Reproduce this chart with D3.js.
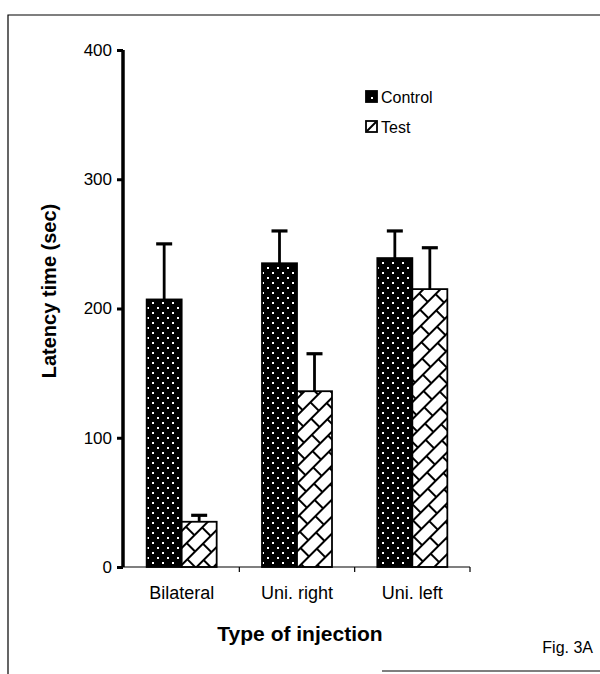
<!DOCTYPE html>
<html><head><meta charset="utf-8">
<script src="https://cdn.jsdelivr.net/npm/d3@7/dist/d3.min.js"></script>
<style>body{margin:0;background:#fff}svg{display:block}text{font-family:"Liberation Sans",Arial,sans-serif;fill:#000}</style>
</head><body>
<svg id="c" width="600" height="674"></svg>
<script>
const categories = ["Bilateral", "Uni. right", "Uni. left"];
const seriesNames = ["Control", "Test"];
const controlValues = [207, 235, 239];
const controlErrTop = [250, 260, 260];
const testValues = [35, 136, 215];
const testErrTop = [40, 165, 247];
const yTicks = [0, 100, 200, 300, 400];

const svg = d3.select("#c");
const defs = svg.append("defs");
// dotted pattern (control)
const pd = defs.append("pattern").attr("id","dots").attr("patternUnits","userSpaceOnUse")
  .attr("width",10).attr("height",10);
pd.append("rect").attr("width",10).attr("height",10).attr("fill","#000");
pd.append("rect").attr("x",2).attr("y",2).attr("width",2).attr("height",2).attr("fill","#fff");
pd.append("rect").attr("x",7).attr("y",7).attr("width",2).attr("height",2).attr("fill","#fff");
// brick diagonal pattern (test)
const pb = defs.append("pattern").attr("id","brick").attr("patternUnits","userSpaceOnUse")
  .attr("width",22).attr("height",24).attr("patternTransform","rotate(-45)");
pb.append("rect").attr("width",22).attr("height",24).attr("fill","#fff");
[[0,0,22,0],[0,12,22,12],[0,24,22,24],[1,0,1,12],[12,12,12,24]].forEach(l=>{
  pb.append("line").attr("x1",l[0]).attr("y1",l[1]).attr("x2",l[2]).attr("y2",l[3])
    .attr("stroke","#000").attr("stroke-width",2);
});

// frame
svg.append("path").attr("d","M8,674 L8,15 L600,15").attr("fill","none").attr("stroke","#000").attr("stroke-width",1.2);
svg.append("line").attr("x1",382).attr("x2",600).attr("y1",671).attr("y2",671).attr("stroke","#000").attr("stroke-width",1.2);

const x = d3.scaleBand().domain(categories).range([124,470]);
const x1 = d3.scaleBand().domain(seriesNames).range([(x.bandwidth()-70)/2, (x.bandwidth()+70)/2]);
const y = d3.scaleLinear().domain([0,400]).range([567,50]);

const data = categories.map((c,i)=>[
  {cat:c, s:"Control", v:controlValues[i], e:controlErrTop[i]},
  {cat:c, s:"Test", v:testValues[i], e:testErrTop[i]}
]).flat();

// error bars
const eg = svg.append("g");
data.forEach(d=>{
  const cx = x(d.cat)+x1(d.s)+x1.bandwidth()/2;
  eg.append("line").attr("x1",cx).attr("x2",cx).attr("y1",y(d.v)).attr("y2",y(d.e)).attr("stroke","#000").attr("stroke-width",2.8);
  eg.append("line").attr("x1",cx-8).attr("x2",cx+8).attr("y1",y(d.e)).attr("y2",y(d.e)).attr("stroke","#000").attr("stroke-width",3.2);
});
// bars
svg.append("g").selectAll("rect").data(data).join("rect")
  .attr("x",d=>x(d.cat)+x1(d.s)).attr("width",x1.bandwidth())
  .attr("y",d=>y(d.v)).attr("height",d=>y(0)-y(d.v))
  .attr("fill",d=>d.s==="Control"?"url(#dots)":"url(#brick)")
  .attr("stroke","#000").attr("stroke-width",1.8);

// y axis
const ya = svg.append("g").attr("transform","translate(123,0)")
  .call(d3.axisLeft(y).tickValues(yTicks).tickSize(6).tickPadding(5));
ya.select(".domain").attr("d",`M0,${y(400)}V${y(0)}`).attr("stroke-width",3.5);
ya.selectAll(".tick line").attr("stroke-width",3);
ya.selectAll(".tick text").attr("font-size",17).style("font-family","Liberation Sans, Arial, sans-serif");

// x axis
const xa = svg.append("g").attr("transform",`translate(0,${y(0)})`)
  .call(d3.axisBottom(x).tickSize(0).tickPadding(19));
xa.select(".domain").attr("d",`M123,0H470`).attr("stroke-width",1.2);
xa.selectAll(".tick text").attr("font-size",18).style("font-family","Liberation Sans, Arial, sans-serif");
svg.append("g").selectAll("line").data(categories).join("line")
  .attr("x1",d=>x(d)+x.bandwidth()).attr("x2",d=>x(d)+x.bandwidth())
  .attr("y1",y(0)).attr("y2",y(0)+5).attr("stroke","#000").attr("stroke-width",1.2);

// titles
svg.append("text").attr("x",300).attr("y",641).attr("text-anchor","middle")
  .attr("font-size",21).attr("font-weight","bold").text("Type of injection");
svg.append("text").attr("transform","translate(56,291) rotate(-90)").attr("text-anchor","middle")
  .attr("font-size",20).attr("font-weight","bold").text("Latency time (sec)");
svg.append("text").attr("x",593).attr("y",653).attr("text-anchor","end")
  .attr("font-size",16).text("Fig. 3A");

// legend
const lg = svg.append("g").attr("transform","translate(366,91)");
seriesNames.forEach((s,i)=>{
  const g = lg.append("g").attr("transform",`translate(0,${i*30})`);
  g.append("rect").attr("width",11).attr("height",11)
    .attr("fill",s==="Control"?"#000":"#fff").attr("stroke","#000").attr("stroke-width",1.8);
  if(s==="Control") g.append("rect").attr("x",5).attr("y",6).attr("width",2).attr("height",2).attr("fill","#fff");
  else g.append("line").attr("x1",1).attr("y1",10).attr("x2",10).attr("y2",1).attr("stroke","#000").attr("stroke-width",2);
  g.append("text").attr("x",15).attr("y",12).attr("font-size",16).text(s);
});
</script>
</body></html>
